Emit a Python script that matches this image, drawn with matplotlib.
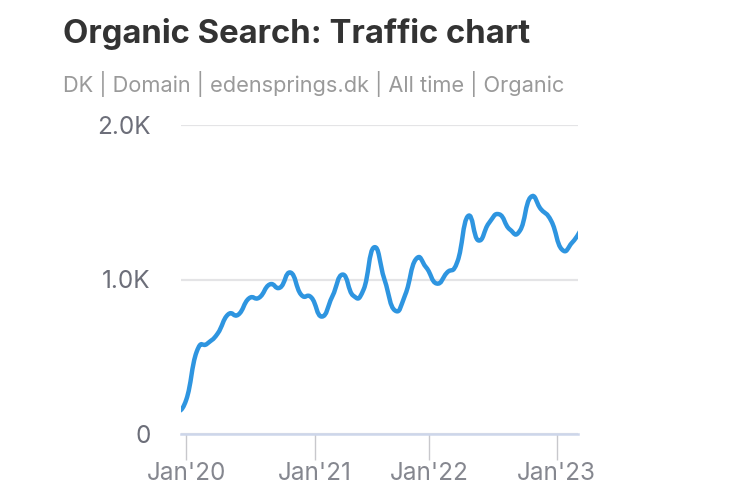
import matplotlib

matplotlib.use("Agg")

import matplotlib.pyplot as plt
from matplotlib.patches import PathPatch
from matplotlib.path import Path

# Monthly organic traffic, Dec'19 .. Mar'23 (index 0 = Jan'20)
months = list(range(-1, 39))
traffic = [
    140, 221, 532, 584, 649, 773, 773, 877, 883, 968,
    948, 1045, 903, 883, 760, 890, 1032, 896, 935, 1208,
    1000, 800, 903, 1130, 1078, 974, 1045, 1117, 1410, 1253,
    1364, 1422, 1325, 1318, 1532, 1455, 1377, 1195, 1240, 1340,
]

tick_pos = [0, 12.3, 23.3, 35.5]
tick_labels = ["Jan'20", "Jan'21", "Jan'22", "Jan'23"]
y_ticks = [0, 1000, 2000]
y_labels = ["0", "1.0K", "2.0K"]

TITLE = "Organic Search: Traffic chart"
SUBTITLE = "DK | Domain | edensprings.dk | All time | Organic"


def spline_path(xs, ys, smooth=0.5):
    # cardinal spline drawn as cubic bezier segments through every data point
    verts = [(xs[0], ys[0])]
    codes = [Path.MOVETO]
    n = len(xs)
    for i in range(n - 1):
        x0, y0 = xs[max(i - 1, 0)], ys[max(i - 1, 0)]
        x1, y1 = xs[i], ys[i]
        x2, y2 = xs[i + 1], ys[i + 1]
        x3, y3 = xs[min(i + 2, n - 1)], ys[min(i + 2, n - 1)]
        c1 = (x1 + (x2 - x0) * smooth / 3, y1 + (y2 - y0) * smooth / 3)
        c2 = (x2 - (x3 - x1) * smooth / 3, y2 - (y3 - y1) * smooth / 3)
        verts += [c1, c2, (x2, y2)]
        codes += [Path.CURVE4] * 3
    return Path(verts, codes)


plt.rcParams["font.family"] = ["Inter", "DejaVu Sans"]

fig = plt.figure(figsize=(7.5, 5), dpi=100)
ax = fig.add_axes([181 / 750, 1 - 434 / 500, 397 / 750, 309 / 500])

ax.add_patch(PathPatch(spline_path(months, traffic, smooth=0.75), facecolor="none",
                       edgecolor="#2e95e0", linewidth=3.2, capstyle="round",
                       joinstyle="round", zorder=3))

ax.set_xlim(-0.5, 37.55)
ax.set_ylim(0, 2000)

ax.set_yticks(y_ticks, labels=y_labels)
ax.set_xticks(tick_pos, labels=tick_labels)
ax.grid(axis="y", color="#e4e4e6", linewidth=1.6)
ax.set_axisbelow(True)

for side in ("top", "right", "left"):
    ax.spines[side].set_visible(False)
ax.spines["bottom"].set_color("#cdd6ea")
ax.spines["bottom"].set_linewidth(1.8)

ax.tick_params(axis="y", length=0, pad=22, labelsize=17.5, labelcolor="#6c6e79")
ax.tick_params(axis="x", length=19, width=1, color="#c8c8cc", pad=1,
               labelsize=17.5, labelcolor="#85878f", direction="out")

fig.text(63 / 750, 1 - 34 / 500, TITLE, fontsize=23.7, fontweight="bold",
         color="#333333", va="center", ha="left")
fig.text(63 / 750, 1 - 84 / 500, SUBTITLE, fontsize=15.7,
         color="#9a9a9a", va="center", ha="left")

fig.savefig("out.png", dpi=100)
